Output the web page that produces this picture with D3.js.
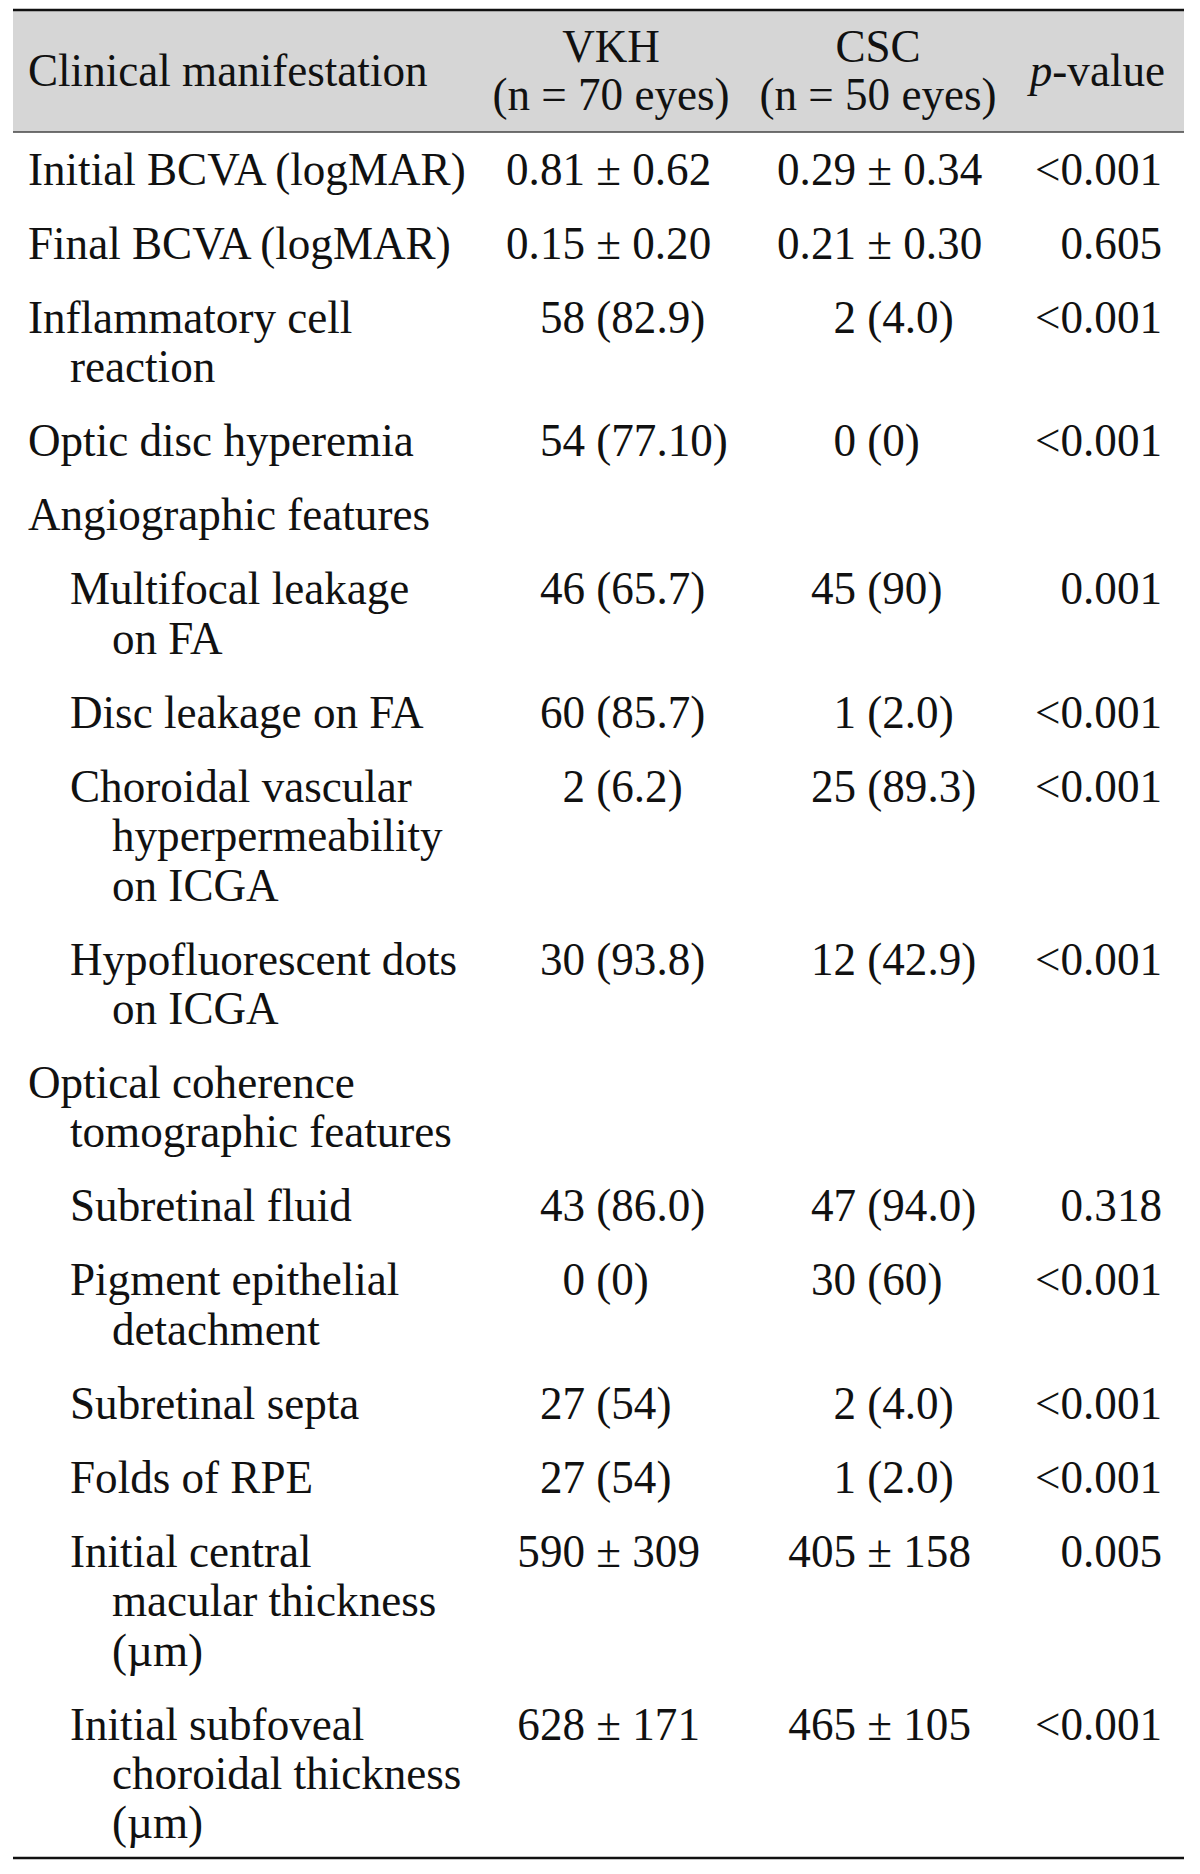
<!DOCTYPE html>
<html>
<head>
<meta charset="utf-8">
<script src="https://cdn.jsdelivr.net/npm/d3@7"></script>
<style>
  body { margin: 0; background: #fff; }
  svg text { font-family: "Liberation Serif", "Times New Roman", serif; fill: #111; white-space: pre; }
</style>
</head>
<body>
<div id="table"></div>
<script>
var svgWidth = 1200;
var svgHeight = 1874;

// table content
var labels = [
    ["Initial BCVA (logMAR)"],
    ["Final BCVA (logMAR)"],
    ["Inflammatory cell", "reaction"],
    ["Optic disc hyperemia"],
    ["Angiographic features"],
    ["Multifocal leakage", "on FA"],
    ["Disc leakage on FA"],
    ["Choroidal vascular", "hyperpermeability", "on ICGA"],
    ["Hypofluorescent dots", "on ICGA"],
    ["Optical coherence", "tomographic features"],
    ["Subretinal fluid"],
    ["Pigment epithelial", "detachment"],
    ["Subretinal septa"],
    ["Folds of RPE"],
    ["Initial central", "macular thickness", "(\u00b5m)"],
    ["Initial subfoveal", "choroidal thickness", "(\u00b5m)"]
];
var levels = [0, 0, 0, 0, 0, 1, 1, 1, 1, 0, 1, 1, 1, 1, 1, 1];
var vkh = ["0.81 \u00b1 0.62", "0.15 \u00b1 0.20", "58 (82.9)", "54 (77.10)", "",
    "46 (65.7)", "60 (85.7)", "2 (6.2)", "30 (93.8)", "",
    "43 (86.0)", "0 (0)", "27 (54)", "27 (54)", "590 \u00b1 309", "628 \u00b1 171"];
var csc = ["0.29 \u00b1 0.34", "0.21 \u00b1 0.30", "2 (4.0)", "0 (0)", "",
    "45 (90)", "1 (2.0)", "25 (89.3)", "12 (42.9)", "",
    "47 (94.0)", "30 (60)", "2 (4.0)", "1 (2.0)", "405 \u00b1 158", "465 \u00b1 105"];
var pValues = ["<0.001", "0.605", "<0.001", "<0.001", "",
    "0.001", "<0.001", "<0.001", "<0.001", "",
    "0.318", "<0.001", "<0.001", "<0.001", "0.005", "<0.001"];
var headerTop = ["Clinical manifestation", "VKH", "CSC", "p-value"];
var headerSub = ["(n = 70 eyes)", "(n = 50 eyes)"];

// layout
var left = 13, right = 1184;
var fontSize = 47, squeeze = 0.96;
var lineH = 49.4, rowGap = 24.6;
var firstBase = 185;
var indent = 42;
var vkhSplit = 585, cscSplit = 856, pRight = 1162;

var svg = d3.select("#table")
    .append("svg")
    .attr("width", svgWidth)
    .attr("height", svgHeight);

// text is a bit narrower than the regular face
function addText(g, x, y, str, anchor) {
    return g.append("text")
        .attr("transform", `translate(${x}, ${y}) scale(${squeeze}, 1)`)
        .attr("text-anchor", anchor || "start")
        .attr("font-size", fontSize)
        .text(str);
}

// header band
svg.append("rect")
    .attr("x", left).attr("y", 10)
    .attr("width", right - left).attr("height", 122)
    .attr("fill", "#d6d6d6");

svg.append("line")
    .attr("x1", left).attr("x2", right)
    .attr("y1", 10).attr("y2", 10)
    .attr("stroke", "#111").attr("stroke-width", 2.5);

svg.append("line")
    .attr("x1", left).attr("x2", right)
    .attr("y1", 132).attr("y2", 132)
    .attr("stroke", "#444").attr("stroke-width", 1.5);

addText(svg, 28, 86, headerTop[0]);

var groupX = [611, 878];
[headerTop[1], headerTop[2]].forEach((t, i) => {
    addText(svg, groupX[i], 62, t, "middle");
    addText(svg, groupX[i], 110, headerSub[i], "middle");
});

var pHead = addText(svg, 1165, 86, "", "end");
pHead.append("tspan").attr("font-style", "italic").text("p");
pHead.append("tspan").text("-value");

// row positions
var rowY = [];
var y = firstBase;
labels.forEach((l) => {
    rowY.push(y);
    y += l.length * lineH + rowGap;
});

var rows = svg.selectAll("g.row")
    .data(labels)
    .enter()
    .append("g")
    .attr("class", "row")
    .attr("transform", (d, i) => `translate(0, ${rowY[i]})`);

rows.each(function (d, i) {
    var g = d3.select(this);
    d.forEach((line, j) => {
        addText(g, 28 + levels[i] * indent + (j > 0 ? indent : 0), j * lineH, line);
    });

    // value columns split at the first space so numbers line up
    [[vkh[i], vkhSplit], [csc[i], cscSplit]].forEach(([v, sx]) => {
        if (!v) return;
        var k = v.indexOf(" ");
        addText(g, sx, 0, v.slice(0, k), "end");
        addText(g, sx, 0, v.slice(k));
    });

    if (pValues[i]) addText(g, pRight, 0, pValues[i], "end");
});

svg.append("line")
    .attr("x1", left).attr("x2", right)
    .attr("y1", 1858).attr("y2", 1858)
    .attr("stroke", "#111").attr("stroke-width", 2.5);
</script>
</body>
</html>
